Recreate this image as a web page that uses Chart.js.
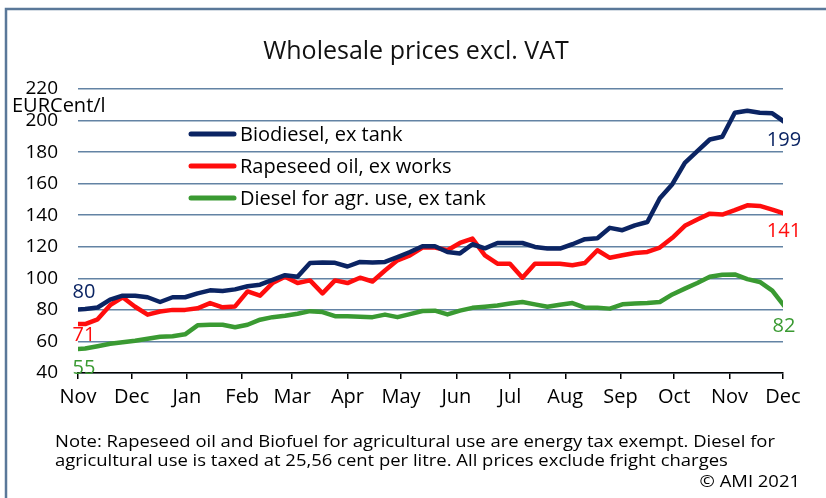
<!DOCTYPE html>
<html>
<head>
<meta charset="utf-8">
<title>Wholesale prices excl. VAT</title>
<script src="https://cdn.jsdelivr.net/npm/chart.js@4/dist/chart.umd.min.js"></script>
<style>
    html, body { margin: 0; padding: 0; background: #fff; }
    #wrap { width: 826px; height: 498px; position: relative; }
</style>
</head>
<body>
<div id="wrap"><canvas id="chart" width="826" height="498"></canvas></div>
<script>
// weekly quotes (Thursdays), first one is 29 Oct 2020
var firstWeek = Date.UTC(2020, 9, 29);
var axisStart = Date.UTC(2020, 10, 1);
var monthLabels = ['Nov', 'Dec', 'Jan', 'Feb', 'Mar', 'Apr', 'May', 'Jun', 'Jul', 'Aug', 'Sep', 'Oct', 'Nov', 'Dec'];
var yTicks = [40, 60, 80, 100, 120, 140, 160, 180, 200, 220];

var seriesNames = ['Biodiesel, ex tank', 'Rapeseed oil, ex works', 'Diesel for agr. use, ex tank'];

var biodiesel = [80, 80.5, 81.5, 86.5, 89, 89, 88, 85, 88, 88, 90.5, 92.4, 92, 93, 95, 96, 99, 102, 101, 109.7,
    110, 109.8, 107.5, 110.4, 110, 110.4, 113.5, 116.7, 120.3, 120.3, 116.7, 115.8, 121.6, 119, 122.4, 122.4,
    122.4, 119.9, 118.9, 118.9, 121.6, 124.8, 125.4, 132, 130.5, 133.6, 135.7, 150.8, 159.7, 173.2, 180.6,
    188, 189.7, 205, 206.2, 205, 204.6, 199];

var rapeseedOil = [71, 71, 74, 83, 88, 82, 77, 79, 80, 80, 81, 84.3, 81.6, 82.2, 91.7, 89, 97, 101, 97, 98.7,
    90.5, 98.7, 97, 100.4, 98, 105, 111.4, 114.6, 119.5, 119.5, 117.8, 122.4, 125.2, 114.6, 109.3, 109.3,
    100.4, 109.3, 109.3, 109.3, 108.3, 109.7, 117.8, 113, 114.6, 116, 116.7, 119.5, 125.7, 133.3, 137.3,
    141, 140.4, 143.2, 146.3, 145.9, 143.6, 141];

var dieselAgr = [55, 55.5, 57, 58.5, 59.5, 60.5, 61.7, 63, 63.3, 64.5, 70.2, 70.6, 70.6, 69, 70.6, 73.8, 75.4,
    76.3, 77.6, 79.2, 78.6, 76, 75.9, 75.6, 75.4, 77, 75.4, 77.3, 79.3, 79.5, 77.1, 79.5, 81.3, 82, 82.8, 84,
    85, 83.5, 82, 83.3, 84.3, 81.4, 81.4, 80.8, 83.5, 84, 84.3, 85, 89.8, 93.5, 97, 101, 102.3, 102.5, 99.5,
    97.7, 92.2, 82];

var footnote = [
    'Note: Rapeseed oil and Biofuel for agricultural use are energy tax exempt. Diesel for',
    'agricultural use is taxed at 25,56 cent per litre. All prices exclude fright charges'
];
var copyright = '\u00A9 AMI 2021';

var DAY = 86400000;
var fontFamily = '"Open Sans", "Noto Sans", sans-serif';

function toPoints(values) {
    var pts = [];
    for (var i = 0; i < values.length; i++) {
        pts.push({ x: (firstWeek + i * 7 * DAY - axisStart) / DAY, y: values[i] });
    }
    return pts;
}

// day offsets of the first of each month, Nov 2020 .. Dec 2021
var monthDays = [];
for (var m = 0; m < monthLabels.length; m++) {
    monthDays.push((Date.UTC(2020, 10 + m, 1) - axisStart) / DAY);
}

var colors = ['#0b2463', '#ff0d0d', '#3a9a32'];

var framePlugin = {
    id: 'frame',
    beforeDraw: function(chart) {
        var ctx = chart.ctx;
        ctx.save();
        ctx.fillStyle = '#fff';
        ctx.fillRect(0, 0, chart.width, chart.height);
        ctx.strokeStyle = '#5a7899';
        ctx.lineWidth = 2.5;
        ctx.strokeRect(6, 9, 900, 600);
        ctx.restore();
    }
};

var textPlugin = {
    id: 'texts',
    afterDraw: function(chart) {
        var ctx = chart.ctx;
        var area = chart.chartArea;
        ctx.save();

        // title
        ctx.fillStyle = '#111';
        ctx.font = '25px ' + fontFamily;
        ctx.textAlign = 'center';
        ctx.textBaseline = 'middle';
        ctx.fillText('Wholesale prices excl. VAT', 416, 52);

        // unit
        ctx.fillStyle = '#000';
        ctx.font = '20px ' + fontFamily;
        ctx.textAlign = 'left';
        ctx.fillText('EURCent/l', 12, 106);

        // legend inside the plot
        var legendY = [134, 166, 198];
        ctx.font = '20px ' + fontFamily;
        for (var i = 0; i < seriesNames.length; i++) {
            ctx.strokeStyle = colors[i];
            ctx.lineWidth = 5;
            ctx.lineCap = 'round';
            ctx.beginPath();
            ctx.moveTo(191, legendY[i]);
            ctx.lineTo(234, legendY[i]);
            ctx.stroke();
            ctx.fillStyle = '#000';
            ctx.fillText(seriesNames[i], 240, legendY[i] + 1);
        }

        // first and last values
        var startDy = [-18, 11, 19];
        var endDy = [18, 18, 20];
        var y = chart.scales.y;
        ctx.font = '20px ' + fontFamily;
        ctx.textAlign = 'center';
        chart.data.datasets.forEach(function(ds, i) {
            var first = ds.data[0].y;
            var last = ds.data[ds.data.length - 1].y;
            ctx.fillStyle = colors[i];
            ctx.fillText(Math.round(first), area.left + 6, y.getPixelForValue(first) + startDy[i]);
            ctx.fillText(Math.round(last), area.right + 1, y.getPixelForValue(last) + endDy[i]);
        });

        // footnote, squeezed to the width of the original
        ctx.fillStyle = '#000';
        ctx.font = '17px ' + fontFamily;
        ctx.textAlign = 'left';
        var scaleX = 720 / ctx.measureText(footnote[0]).width;
        ctx.save();
        ctx.translate(55, 0);
        ctx.scale(scaleX, 1);
        ctx.fillText(footnote[0], 0, 442);
        ctx.fillText(footnote[1], 0, 461);
        ctx.restore();
        ctx.save();
        ctx.translate(800, 0);
        ctx.scale(scaleX, 1);
        ctx.textAlign = 'right';
        ctx.fillText(copyright, 0, 482);
        ctx.restore();

        ctx.restore();
    }
};

var chartOptions = {
    type: 'line',
    data: {
        datasets: [
            { label: seriesNames[0], data: toPoints(biodiesel), borderColor: colors[0] },
            { label: seriesNames[1], data: toPoints(rapeseedOil), borderColor: colors[1] },
            { label: seriesNames[2], data: toPoints(dieselAgr), borderColor: colors[2] }
        ]
    },
    options: {
        responsive: false,
        animation: false,
        layout: { padding: { left: 0, top: 89, right: 43, bottom: 0 } },
        elements: {
            line: { borderWidth: 4.5, tension: 0, borderJoinStyle: 'round', borderCapStyle: 'butt' },
            point: { radius: 0, hoverRadius: 0 }
        },
        plugins: {
            legend: { display: false },
            title: { display: false },
            tooltip: { enabled: false }
        },
        scales: {
            x: {
                type: 'linear',
                min: 0,
                max: monthDays[monthDays.length - 1],
                afterBuildTicks: function(scale) {
                    scale.ticks = monthDays.map(function(d) { return { value: d }; });
                },
                afterFit: function(scale) { scale.height = 125; },
                ticks: {
                    autoSkip: false,
                    maxRotation: 0,
                    padding: 6,
                    color: '#000',
                    font: { family: fontFamily, size: 20 },
                    callback: function(value, index) { return monthLabels[index]; }
                },
                grid: { drawOnChartArea: false, drawTicks: true, tickLength: 6, color: '#000', lineWidth: 1.5 },
                border: { display: true, color: '#000', width: 1.5 }
            },
            y: {
                min: 40,
                max: 220,
                afterBuildTicks: function(scale) {
                    scale.ticks = yTicks.map(function(v) { return { value: v }; });
                },
                afterFit: function(scale) { scale.width = 78; },
                ticks: {
                    padding: 20,
                    color: '#000',
                    font: { family: fontFamily, size: 19 }
                },
                grid: { drawTicks: false, color: '#6383a4', lineWidth: 1.5 },
                border: { display: false }
            }
        }
    },
    plugins: [framePlugin, textPlugin]
};

var ctx = document.getElementById('chart').getContext('2d');
var chart = new Chart(ctx, chartOptions);
</script>
</body>
</html>
